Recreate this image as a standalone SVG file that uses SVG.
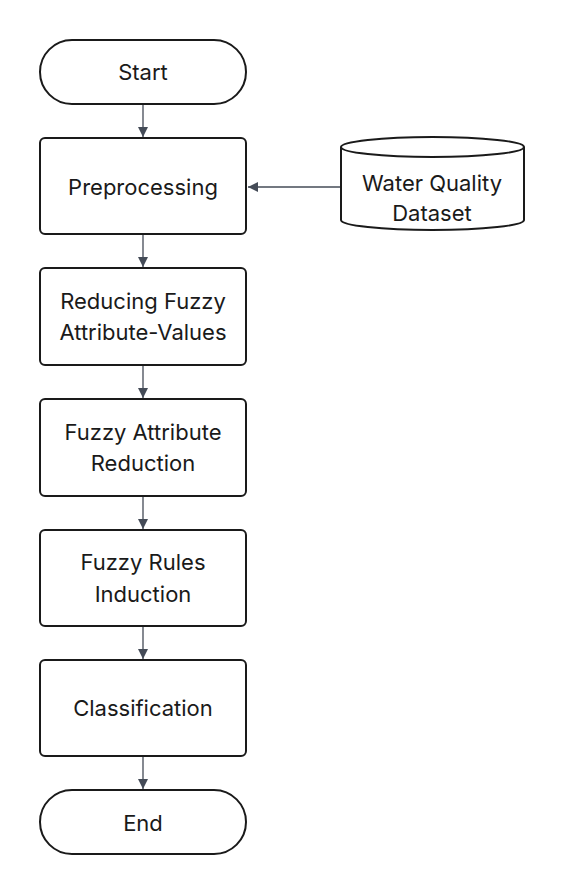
<svg xmlns="http://www.w3.org/2000/svg" width="563" height="895" viewBox="0 0 563 895">
<style>
.n{fill:#fff;stroke:#1a1a1a;stroke-width:2}
.t{font-family:Inter,"Noto Sans",sans-serif;font-size:22px;fill:#1a1a1a;text-anchor:middle}
.c{stroke:#444b57;stroke-width:1.3;fill:none}
</style>
<defs>
<marker id="ah" viewBox="0 0 10 10" refX="10" refY="5" markerWidth="10" markerHeight="10" markerUnits="userSpaceOnUse" orient="auto">
<path d="M0,0 L10,5 L0,10 Z" fill="#444b57"/>
</marker>
</defs>
<rect width="563" height="895" fill="#fff"/>
<g id="connectors">
<line class="c" x1="143" y1="105" x2="143" y2="137" marker-end="url(#ah)"/>
<line class="c" x1="143" y1="235" x2="143" y2="267" marker-end="url(#ah)"/>
<line class="c" x1="143" y1="365" x2="143" y2="398" marker-end="url(#ah)"/>
<line class="c" x1="143" y1="496" x2="143" y2="529" marker-end="url(#ah)"/>
<line class="c" x1="143" y1="626" x2="143" y2="659" marker-end="url(#ah)"/>
<line class="c" x1="143" y1="756" x2="143" y2="789" marker-end="url(#ah)"/>
<line class="c" x1="341" y1="187" x2="248" y2="187" marker-end="url(#ah)"/>
</g>
<g id="start">
<rect class="n" x="40" y="40" width="206" height="64" rx="32"/>
<text class="t" x="143" y="80">Start</text>
</g>
<g id="preprocessing">
<rect class="n" x="40" y="138" width="206" height="96" rx="5"/>
<text class="t" x="143" y="195">Preprocessing</text>
</g>
<g id="dataset">
<path class="n" d="M341,147 L341,220 A91.5,10 0 0 0 524,220 L524,147 A91.5,10 0 0 0 341,147 Z"/>
<path class="n" d="M341,147 A91.5,10 0 0 0 524,147" fill="none"/>
<text class="t" x="432" y="191">Water Quality</text>
<text class="t" x="432" y="221">Dataset</text>
</g>
<g id="reducing">
<rect class="n" x="40" y="268" width="206" height="97" rx="5"/>
<text class="t" x="143" y="309">Reducing Fuzzy</text>
<text class="t" x="143" y="340">Attribute-Values</text>
</g>
<g id="attrreduction">
<rect class="n" x="40" y="399" width="206" height="97" rx="5"/>
<text class="t" x="143" y="440">Fuzzy Attribute</text>
<text class="t" x="143" y="471">Reduction</text>
</g>
<g id="rules">
<rect class="n" x="40" y="530" width="206" height="96" rx="5"/>
<text class="t" x="143" y="570">Fuzzy Rules</text>
<text class="t" x="143" y="602">Induction</text>
</g>
<g id="classification">
<rect class="n" x="40" y="660" width="206" height="96" rx="5"/>
<text class="t" x="143" y="716">Classification</text>
</g>
<g id="end">
<rect class="n" x="40" y="790" width="206" height="64" rx="32"/>
<text class="t" x="143" y="831">End</text>
</g>
</svg>
